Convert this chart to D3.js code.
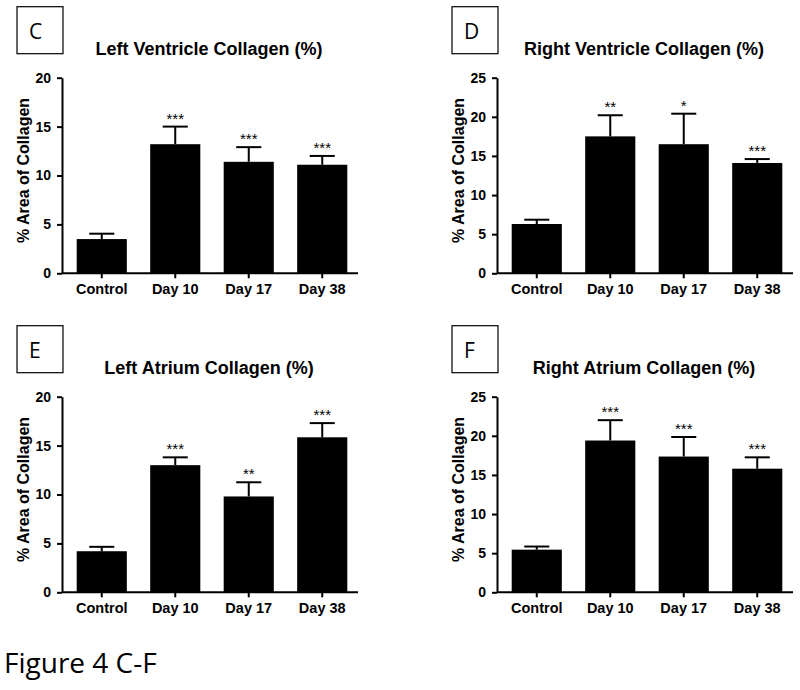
<!DOCTYPE html>
<html>
<head>
<meta charset="utf-8">
<script src="https://cdn.jsdelivr.net/npm/d3@7"></script>
<style>
  body { margin: 0; background: #fff; }
  svg { display: block; }
  .ax text { font-family: "Liberation Sans", Arial, sans-serif; font-weight: bold; fill: #000; }
  .ax path, .ax line { stroke: #000; stroke-width: 2; }
</style>
</head>
<body>
<div class="canvas"></div>
<script>
// data
const categories = ['Control', 'Day 10', 'Day 17', 'Day 38'];
const panelLetters = ['C', 'D', 'E', 'F'];
const panelTitles = [
  'Left Ventricle Collagen (%)',
  'Right Ventricle Collagen (%)',
  'Left Atrium Collagen (%)',
  'Right Atrium Collagen (%)'
];
const yMaxes = [20, 25, 20, 25];

const lvMeans = [3.5, 13.2, 11.4, 11.1];
const lvErrors = [0.55, 1.8, 1.5, 0.9];
const lvStars = ['', '***', '***', '***'];

const rvMeans = [6.3, 17.5, 16.5, 14.1];
const rvErrors = [0.55, 2.7, 3.9, 0.5];
const rvStars = ['', '**', '*', '***'];

const laMeans = [4.2, 13.0, 9.8, 15.85];
const laErrors = [0.45, 0.8, 1.45, 1.45];
const laStars = ['', '***', '**', '***'];

const raMeans = [5.45, 19.4, 17.35, 15.8];
const raErrors = [0.4, 2.6, 2.5, 1.45];
const raStars = ['', '***', '***', '***'];

const yLabel = '% Area of Collagen';
const figureLabel = 'Figure 4 C-F';

const panels = [
  { means: lvMeans, errors: lvErrors, stars: lvStars },
  { means: rvMeans, errors: rvErrors, stars: rvStars },
  { means: laMeans, errors: laErrors, stars: laStars },
  { means: raMeans, errors: raErrors, stars: raStars }
];

// layout
const dims = { width: 800, height: 690, plotW: 296, plotH: 195.6 };
const colX = [62, 497];
const rowTop = [77.7, 396.7];
const sans = '"Liberation Sans", Arial, sans-serif';

const svg = d3.select('.canvas')
  .append('svg')
  .attr('width', dims.width)
  .attr('height', dims.height);

panels.forEach((p, i) => {
  const ox = colX[i % 2];
  const oy = rowTop[Math.floor(i / 2)];

  const g = svg.append('g')
    .attr('transform', `translate(${ox}, ${oy})`);

  const x = d3.scaleBand()
    .domain(categories)
    .range([0, 300])
    .paddingInner(0.318)
    .paddingOuter(0.2);

  const y = d3.scaleLinear()
    .domain([0, yMaxes[i]])
    .range([dims.plotH, 0]);

  const rows = categories.map((c, j) => ({
    cat: c, mean: p.means[j], err: p.errors[j], star: p.stars[j]
  }));

  // bars
  g.selectAll('rect.bar')
    .data(rows)
    .enter()
    .append('rect')
    .attr('class', 'bar')
    .attr('x', d => x(d.cat))
    .attr('y', d => y(d.mean))
    .attr('width', x.bandwidth())
    .attr('height', d => dims.plotH - y(d.mean))
    .attr('fill', '#000');

  // error bars (upper only)
  const cap = x.bandwidth() * 0.25;
  const eb = g.selectAll('g.err')
    .data(rows)
    .enter()
    .append('g')
    .attr('class', 'err')
    .attr('transform', d => `translate(${x(d.cat) + x.bandwidth() / 2}, 0)`);

  eb.append('line')
    .attr('x1', 0).attr('x2', 0)
    .attr('y1', d => y(d.mean))
    .attr('y2', d => y(d.mean + d.err))
    .attr('stroke', '#000')
    .attr('stroke-width', 2);

  eb.append('line')
    .attr('x1', -cap).attr('x2', cap)
    .attr('y1', d => y(d.mean + d.err))
    .attr('y2', d => y(d.mean + d.err))
    .attr('stroke', '#000')
    .attr('stroke-width', 2);

  eb.append('text')
    .attr('y', d => y(d.mean + d.err) - 3)
    .attr('text-anchor', 'middle')
    .attr('font-family', sans)
    .attr('font-size', 15)
    .text(d => d.star);

  // axes
  const yAxis = d3.axisLeft(y)
    .tickValues(d3.range(0, yMaxes[i] + 1, 5))
    .tickSize(5)
    .tickSizeOuter(0)
    .tickPadding(6);

  g.append('g')
    .attr('class', 'ax')
    .call(yAxis)
    .selectAll('text')
    .attr('font-size', 14);

  const xAxis = d3.axisBottom(x)
    .tickSize(5)
    .tickSizeOuter(0)
    .tickPadding(5);

  const xg = g.append('g')
    .attr('class', 'ax')
    .attr('transform', `translate(0, ${dims.plotH})`)
    .call(xAxis);
  xg.selectAll('text').attr('font-size', 14.5);
  xg.select('.domain').attr('d', `M0,0H${dims.plotW}`);

  // y label
  g.append('text')
    .attr('transform', `translate(${-33}, ${dims.plotH / 2 - 5}) rotate(-90)`)
    .attr('text-anchor', 'middle')
    .attr('font-family', sans)
    .attr('font-weight', 'bold')
    .attr('font-size', 16)
    .text(yLabel);

  // title
  g.append('text')
    .attr('x', 147)
    .attr('y', -23)
    .attr('text-anchor', 'middle')
    .attr('font-family', sans)
    .attr('font-weight', 'bold')
    .attr('font-size', 18)
    .text(panelTitles[i]);

  // panel letter box
  g.append('rect')
    .attr('x', -45)
    .attr('y', -71)
    .attr('width', 46)
    .attr('height', 47)
    .attr('fill', 'none')
    .attr('stroke', '#000')
    .attr('stroke-width', 1.2);

  g.append('text')
    .attr('x', -33)
    .attr('y', -39)
    .attr('font-family', '"Open Sans", sans-serif')
    .attr('font-size', 21)
    .text(panelLetters[i]);
});

svg.append('text')
  .attr('x', 4)
  .attr('y', 673)
  .attr('font-family', '"Open Sans", sans-serif')
  .attr('font-size', 28)
  .text(figureLabel);
</script>
</body>
</html>
